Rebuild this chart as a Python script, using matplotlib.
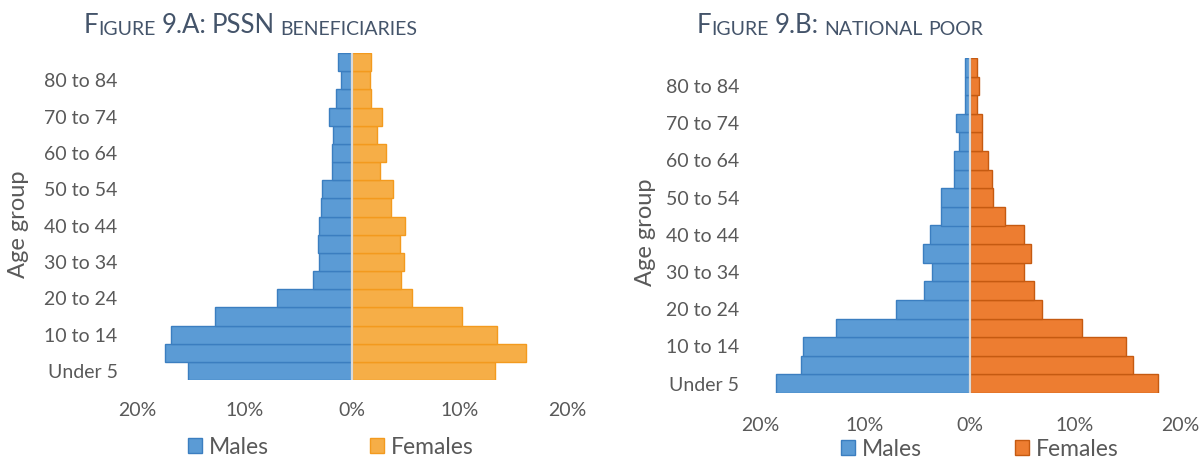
import matplotlib.pyplot as plt
from matplotlib.patches import Patch
from matplotlib.text import Annotation
import numpy as np

plt.rcParams['font.family'] = ['Lato', 'DejaVu Sans']

# age groups, bottom to top
age_groups = ["Under 5", "5 to 9", "10 to 14", "15 to 19", "20 to 24", "25 to 29",
              "30 to 34", "35 to 39", "40 to 44", "45 to 49", "50 to 54", "55 to 59",
              "60 to 64", "65 to 69", "70 to 74", "75 to 79", "80 to 84", "85 and over"]

# Figure 9.A: PSSN beneficiaries (% of population)
pssn_males = [15.3, 17.4, 16.8, 12.7, 7.0, 3.6, 3.1, 3.2, 3.1, 2.9, 2.8, 1.9,
              1.9, 1.8, 2.1, 1.5, 1.05, 1.3]
pssn_females = [13.3, 16.2, 13.5, 10.2, 5.6, 4.6, 4.8, 4.5, 4.9, 3.6, 3.8, 2.6,
                3.2, 2.3, 2.8, 1.8, 1.7, 1.8]

# Figure 9.B: national poor (% of population)
poor_males = [18.5, 16.1, 15.9, 12.75, 7.05, 4.35, 3.65, 4.5, 3.85, 2.75, 2.8, 1.55,
              1.55, 1.05, 1.3, 0.45, 0.5, 0.45]
poor_females = [17.9, 15.55, 14.85, 10.65, 6.85, 6.05, 5.1, 5.8, 5.1, 3.3, 2.2, 2.05,
                1.75, 1.15, 1.1, 0.7, 0.85, 0.7]

x_ticks = [-20, -10, 0, 10, 20]
x_ticklabels = ["20%", "10%", "0%", "10%", "20%"]

TEXT = '#595959'
TITLE = '#44546A'
MALE_FILL, MALE_EDGE = '#5B9BD5', '#3B7EC0'

W, H = 1204, 461
fig = plt.figure(figsize=(W / 100, H / 100), dpi=100)


def px_axes(x0, y0, x1, y1):
    # pixel box (top-left origin) -> figure fraction axes
    return fig.add_axes([x0 / W, 1 - y1 / H, (x1 - x0) / W, (y1 - y0) / H])


def pyramid(ax, males, females, f_fill, f_edge, pad_x, pad_y):
    y = np.arange(len(age_groups))
    ax.barh(y, -np.array(males), height=1.0, color=MALE_FILL,
            edgecolor=MALE_EDGE, linewidth=1.0, zorder=2)
    ax.barh(y, females, height=1.0, color=f_fill,
            edgecolor=f_edge, linewidth=1.0, zorder=2)
    ax.axvline(0, color='#D9D9D9', linewidth=1.6, zorder=3)
    ax.set_xlim(-20, 20)
    ax.set_ylim(-0.5, len(age_groups) - 0.5)
    ax.set_xticks(x_ticks)
    ax.set_xticklabels(x_ticklabels)
    ax.set_yticks(y[::2])
    ax.set_yticklabels(age_groups[::2])
    ax.tick_params(axis='both', length=0, labelsize=14, colors=TEXT)
    ax.tick_params(axis='x', pad=pad_x)
    ax.tick_params(axis='y', pad=pad_y)
    for s in ax.spines.values():
        s.set_visible(False)
    ax.patch.set_alpha(0)


def small_caps_title(x, y, words):
    # words: list of (text, big) pieces, None = word gap
    big_fs, small_fs = 18.5, 14
    prev = fig.text(x / W, 1 - y / H, words[0][0], fontsize=big_fs if words[0][1] else small_fs,
                    color=TITLE, ha='left', va='bottom')
    gap = 0
    for w in words[1:]:
        if w is None:
            gap = 4.0
            continue
        txt, big = w
        a = Annotation(txt, xy=(1, 0), xycoords=prev, xytext=(gap, 0),
                       textcoords='offset points', fontsize=big_fs if big else small_fs,
                       color=TITLE, ha='left', va='bottom')
        fig.add_artist(a)
        prev = a
        gap = 0


ax1 = px_axes(137, 53, 567, 380)
pyramid(ax1, pssn_males, pssn_females, '#F6AE47', '#F39A1E', 16, 14)
ax2 = px_axes(760, 58, 1180, 393)
pyramid(ax2, poor_males, poor_females, '#ED7D31', '#C55A11', 17, 15)

fig.text(19 / W, 1 - 224 / H, "Age group", rotation=90, fontsize=17, color=TEXT,
         ha='center', va='center')
fig.text(645 / W, 1 - 232 / H, "Age group", rotation=90, fontsize=17, color=TEXT,
         ha='center', va='center')

small_caps_title(84, 38, [("F", True), ("IGURE", False), None, ("9.A:", True), None,
                          ("PSSN", True), None, ("BENEFICIARIES", False)])
small_caps_title(697, 38, [("F", True), ("IGURE", False), None, ("9.B:", True), None,
                           ("NATIONAL", False), None, ("POOR", False)])


def legend(cx, cy, f_fill, f_edge, spacing):
    handles = [Patch(facecolor=MALE_FILL, edgecolor=MALE_EDGE, linewidth=1.0, label="Males"),
               Patch(facecolor=f_fill, edgecolor=f_edge, linewidth=1.0, label="Females")]
    fig.legend(handles=handles, loc='center', bbox_to_anchor=(cx / W, 1 - cy / H),
               ncol=2, frameon=False, fontsize=16.5, labelcolor=TEXT,
               handlelength=0.62, handleheight=0.62, handletextpad=0.3,
               columnspacing=spacing, borderpad=0, borderaxespad=0)


legend(331, 447, '#F6AE47', '#F39A1E', 4.4)
legend(980, 449, '#ED7D31', '#C55A11', 4.05)

fig.savefig('out.png', dpi=100)
